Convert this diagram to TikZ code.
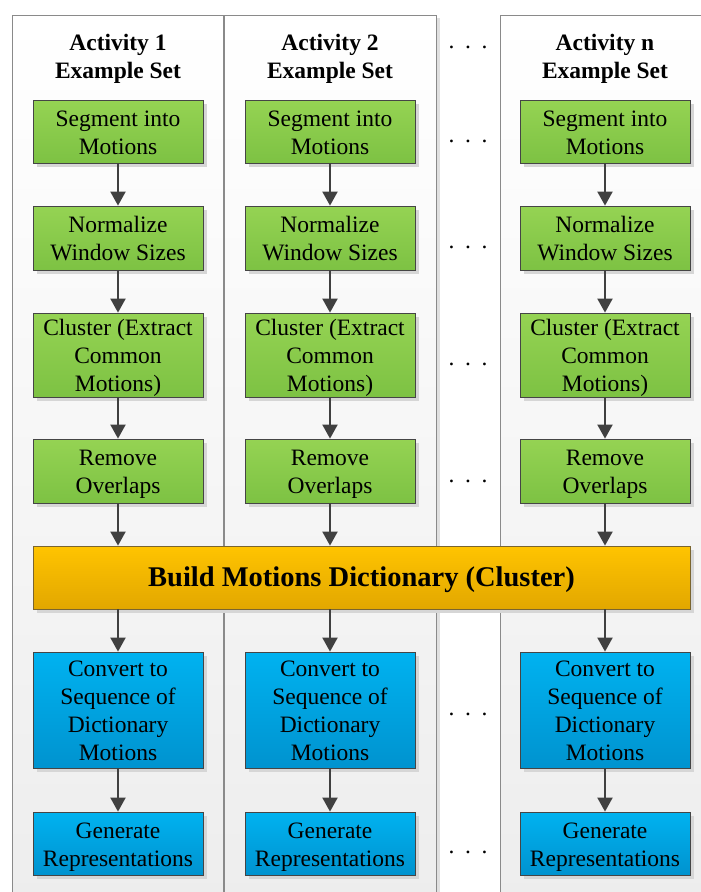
\documentclass[tikz,border=0pt]{standalone}
\usepackage{fontspec}
\setmainfont{Liberation Serif}
\usetikzlibrary{arrows.meta,shadows}
\definecolor{gTop}{HTML}{95D353}
\definecolor{gBot}{HTML}{7DC243}
\definecolor{oTop}{HTML}{FFC400}
\definecolor{oBot}{HTML}{E2A700}
\definecolor{bTop}{HTML}{00B2F0}
\definecolor{bBot}{HTML}{0093CF}
\definecolor{boxline}{HTML}{454545}
\definecolor{obline}{HTML}{7A6530}
\definecolor{panelline}{HTML}{8A8A8A}
\definecolor{arrcol}{HTML}{404040}
\newcommand{\ts}{\rule{0pt}{22.2pt}}
\newcommand{\botstrut}{\rule[-5.2pt]{0pt}{5.2pt}}
\newcommand{\bigstrut}{\rule[-6pt]{0pt}{29.5pt}}
\tikzset{
  panelbox/.style={draw=panelline, line width=0.8pt, top color=white, bottom color=black!7},
  panelshadow/.style={fill=black!12},
  box/.style={draw=boxline, line width=0.8pt, minimum width=170pt, inner sep=0pt,
    align=center, text=black, font=\fontsize{23.5}{28}\selectfont,
    execute at end node=\botstrut,
    general shadow={fill=black!16, shadow xshift=3.5pt, shadow yshift=-3.5pt}},
  gbox/.style={box, top color=gTop, bottom color=gBot},
  bbox/.style={box, top color=bTop, bottom color=bBot},
  obox/.style={draw=obline, line width=0.8pt, inner sep=0pt, text=black,
    top color=oTop, bottom color=oBot, minimum width=657pt,
    font=\fontsize{28.5}{32}\selectfont\bfseries,
    general shadow={fill=black!16, shadow xshift=3.5pt, shadow yshift=-3.5pt}},
  titletext/.style={align=center, inner sep=0pt, font=\fontsize{23.5}{28}\selectfont\bfseries},
  dotstext/.style={anchor=base, inner sep=0pt, font=\fontsize{23.5}{28}\selectfont},
  arr/.style={draw=arrcol, line width=2pt, -{Triangle[width=15pt,length=14pt]}, arrcol}
}
\newcommand{\threedots}{.\hspace{10.6pt}.\hspace{10.6pt}.}
\begin{document}
\begin{tikzpicture}[x=1pt,y=-1pt]
\useasboundingbox (0,0) rectangle (701,892);
% panels
\fill[panelshadow] (226,18) rectangle (439.5,900);
\path[panelbox] (12,15) rectangle (223,900);
\path[panelbox] (224,15) rectangle (436,900);
\path[panelbox] (500,15) rectangle (715,900);
% titles
\node[titletext] (t1) at (118,59) {Activity 1\\Example Set};
\node[titletext] (t2) at (330,59) {Activity 2\\Example Set};
\node[titletext] (t3) at (605,59) {Activity n\\Example Set};
% rows
\foreach \c/\x in {1/118,2/330,3/605}{
  \node[gbox, minimum height=63pt] (s\c) at (\x,131.5) {\ts Segment into\\Motions};
  \node[gbox, minimum height=64pt] (n\c) at (\x,238) {\ts Normalize\\Window Sizes};
  \node[gbox, minimum height=84pt] (k\c) at (\x,355) {\ts Cluster (Extract\\Common\\Motions)};
  \node[gbox, minimum height=64pt] (r\c) at (\x,471) {\ts Remove\\Overlaps};
  \node[bbox, minimum height=116pt] (c\c) at (\x,710) {\ts Convert to\\Sequence of\\Dictionary\\Motions};
  \node[bbox, minimum height=63pt] (g\c) at (\x,843.5) {\ts Generate\\Representations};
}
\node[obox, minimum height=63pt] (b) at (361.5,577.5) {\bigstrut Build Motions Dictionary (Cluster)};
% arrows
\foreach \c in {1,2,3}{
  \draw[arr] (s\c.south) -- (n\c.north);
  \draw[arr] (n\c.south) -- (k\c.north);
  \draw[arr] (k\c.south) -- (r\c.north);
  \draw[arr] (r\c.south) -- (r\c.south |- b.north);
  \draw[arr] (c\c.north |- b.south) -- (c\c.north);
  \draw[arr] (c\c.south) -- (g\c.north);
}
% dots
\node[dotstext] (d0) at (468,48) {\threedots};
\node[dotstext] (d1) at (468,142.5) {\threedots};
\node[dotstext] (d2) at (468,248) {\threedots};
\node[dotstext] (d3) at (468,365) {\threedots};
\node[dotstext] (d4) at (468,482) {\threedots};
\node[dotstext] (d5) at (468,715) {\threedots};
\node[dotstext] (d6) at (468,853) {\threedots};
\end{tikzpicture}
\end{document}
